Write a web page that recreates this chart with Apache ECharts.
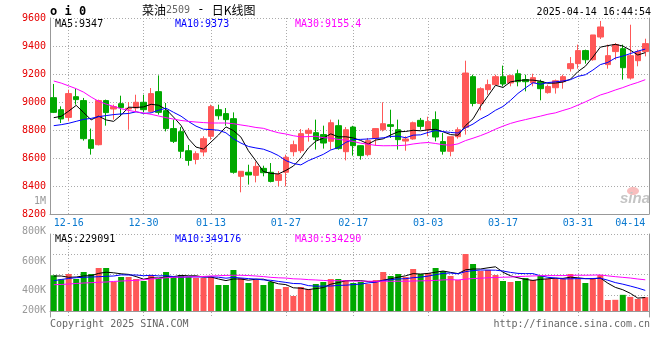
<!DOCTYPE html>
<html><head><meta charset="utf-8">
<script src="https://cdn.jsdelivr.net/npm/echarts@6/dist/echarts.min.js"></script>
<style>html,body{margin:0;padding:0;background:#fff}#c{width:660px;height:360px}</style>
</head><body><div id="c"></div>
<script>
const dates = ['12-12','12-13','12-16','12-17','12-18','12-19','12-20','12-23','12-24','12-25','12-26','12-27','12-30','12-31',
 '01-02','01-03','01-06','01-07','01-08','01-09','01-10','01-13','01-14','01-15','01-16','01-17','01-20','01-21','01-22','01-23','01-24','01-27',
 '02-05','02-06','02-07','02-10','02-11','02-12','02-13','02-14','02-17','02-18','02-19','02-20','02-21','02-24','02-25','02-26','02-27','02-28',
 '03-03','03-04','03-05','03-06','03-07','03-10','03-11','03-12','03-13','03-14','03-17','03-18','03-19','03-20','03-21','03-24','03-25','03-26','03-27','03-28','03-31',
 '04-01','04-02','04-03','04-07','04-08','04-09','04-10','04-11','04-14'];
const opens = [9031,8945,8890,9038,9010,8731,8695,9010,8950,8988, 8950,8957,8998,8933,9074,8938,8810,8788,8652,8590,
 8643,8755,8945,8917,8881,8469,8498,8476,8526,8498, 8440,8498,8645,8652,8776,8781,8767,8719,8831,8645,
 8821,8688,8624,8743,8802,8838,8802,8721,8736,8869, 8802,8874,8717,8648,8752,8819,9181,8990,9088,9124,
 9181,9136,9202,9160,9138,9145,9067,9102,9145,9238, 9274,9367,9302,9464,9267,9360,9381,9171,9295,9360];
const closes = [8926,8879,9060,9017,8738,8669,9010,8924,8967,8960, 8955,8998,8945,9060,8926,8810,8719,8648,8583,8631,
 8738,8967,8902,8874,8498,8505,8479,8540,8495,8433, 8483,8605,8695,8774,8798,8731,8707,8852,8667,8802,
 8688,8617,8724,8810,8845,8826,8731,8736,8852,8826, 8860,8750,8648,8752,8802,9207,8990,9095,9124,9181,
 9129,9188,9145,9145,9174,9095,9110,9152,9181,9274, 9367,9302,9479,9536,9331,9410,9245,9331,9360,9417];
const lows = [8921,8850,8862,8981,8724,8624,8690,8831,8874,8902, 8802,8933,8926,8926,8910,8790,8707,8598,8545,8555,
 8612,8731,8874,8831,8488,8355,8410,8426,8469,8426, 8398,8398,8612,8636,8717,8660,8667,8660,8660,8583,
 8617,8588,8612,8688,8790,8743,8660,8652,8731,8802, 8755,8719,8624,8612,8738,8767,8969,8940,9052,9124,
 9112,9112,9112,9076,9112,9012,9060,9060,9095,9217, 9238,9274,9295,9450,9238,9302,9160,9160,9255,9326];
const highs = [9129,8969,9088,9093,9029,8810,9017,9017,8981,9045, 9000,9052,9052,9100,9190,8993,8874,8821,8693,8648,
 8755,8981,8981,8957,8926,8505,8552,8574,8545,8564, 8507,8624,8724,8807,8814,8874,8831,8874,8874,8821,
 8830,8690,8743,8812,8998,8945,8874,8755,8860,8886, 8895,8933,8779,8752,8819,9295,9195,9105,9160,9195,
 9260,9195,9231,9195,9202,9160,9124,9160,9195,9321, 9410,9374,9479,9579,9410,9421,9410,9552,9374,9452];
const volumes = [607000,539000,629000,544000,663000,629000,731000,731000,493000,578000,
 578000,544000,510000,612000,561000,663000,578000,612000,578000,561000,
 561000,578000,442000,442000,697000,561000,476000,527000,442000,493000,
 374000,408000,255000,408000,374000,459000,493000,544000,544000,527000,
 476000,493000,459000,527000,663000,595000,629000,578000,714000,629000,
 646000,731000,680000,595000,527000,969000,799000,680000,697000,612000,
 510000,493000,510000,561000,527000,595000,544000,561000,544000,629000,
 544000,476000,544000,612000,187000,190000,275000,240000,205000,235000];
// moving-average values for the first days (history before the window)
const ma5Lead = [8888,8898,8935,8976];
const ma10Lead = [8831,8838,8848,8862,8876,8883,8895,8903,8910];
const ma30Lead = [9150,9135,9115,9095,9070,9035,9005,8985,8968,8952,8940,8930,8921,8912,8900,8888,8878,8868,8862,8857,8853,8850,8850,8850,8845,8836,8828,8818,8812];
const vma5Lead = [595000,595000,573000,578000];
const vma10Lead = [515000,536000,553000,566000,573000,578000,583000,590000,595000];
const vma30Lead = [447000,451000,459000,468000,476000,481000,488000,493000,502000,510000,515000,522000,532000,544000,553000,566000,573000,578000,578000,581000,587000,595000,600000,605000,607000,607000,603000,595000,585000];
const dateTicks = ['12-16','12-30','01-13','01-27','02-17','03-03','03-17','03-31','04-14'];
const priceMin = 8200, priceMax = 9600, priceStep = 200;
const volTickLabels = ['800K','600K','400K','200K'];
const maTexts = ['MA5:9347','MA10:9373','MA30:9155.4'];
const vmaTexts = ['MA5:229091','MA10:349176','MA30:534290'];

function movingAvg(src, n, lead){
  return src.map((v,i)=>{
    if(i < n-1) return lead[i];
    let s=0; for(let k=i-n+1;k<=i;k++) s+=src[k];
    return +(s/n).toFixed(1);
  });
}
const UP='#ff5858', DOWN='#00a800';
const MONO='"DejaVu Sans Mono", monospace';
const isTick = i => dateTicks.indexOf(dates[i]) >= 0;
const dotted = {color:'#aaa', type:[1,2], width:1};

const chart = echarts.init(document.getElementById('c'), null, {renderer:'canvas'});
const catAxis = (g, showLabel) => ({
  type:'category', gridIndex:g, data:dates, boundaryGap:true,
  axisLine:{show:true, lineStyle:{color:'#999'}}, axisTick:{show:false},
  axisLabel:{show:showLabel, interval:(i)=>isTick(i), color:'#0a79cf', fontFamily:MONO, fontSize:10, margin:4, alignMaxLabel:'right'},
  splitLine:{show:true, interval:(i)=>isTick(i) && i<dates.length-1, alignWithLabel:true, lineStyle:dotted}
});
const rightBorder = g => ({type:'value', gridIndex:g, position:'right', min:0, max:1,
  axisLine:{show:true, lineStyle:{color:'#999'}}, axisLabel:{show:false}, axisTick:{show:false}, splitLine:{show:false}});

const gtext = (x,y,text,fill,font,align) => ({type:'text', x, y, silent:true,
  style:{text, fill, font, align:align||'left', verticalAlign:'middle'}});

chart.setOption({
  animation:false,
  backgroundColor:'#fff',
  grid:[
    {left:50, top:18, width:599, height:196},
    {left:50, top:234, width:599, height:83},
    {left:50, top:234, width:599, height:61}
  ],
  xAxis:[catAxis(0,true), catAxis(1,false), {type:'value', gridIndex:2, show:false, min:0, max:1}],
  yAxis:[
    {type:'value', gridIndex:0, min:priceMin, max:priceMax, interval:priceStep,
     axisLine:{show:true, lineStyle:{color:'#999'}}, axisTick:{show:false},
     axisLabel:{color:'#e60000', fontFamily:MONO, fontSize:10, margin:4, formatter:(v)=>String(v)},
     splitLine:{show:true, lineStyle:dotted}},
    rightBorder(0),
    {type:'value', gridIndex:1, min:-102000, max:1309000,
     axisLine:{show:true, lineStyle:{color:'#999'}}, axisTick:{show:false}, axisLabel:{show:false}, splitLine:{show:false}},
    rightBorder(1),
    {type:'value', gridIndex:2, min:0, max:3, interval:1, axisLine:{show:false}, axisTick:{show:false},
     axisLabel:{show:false}, splitLine:{show:true, lineStyle:dotted}}
  ],
  series:[
    {type:'candlestick', xAxisIndex:0, yAxisIndex:0, barWidth:6,
     data:dates.map((d,i)=>[opens[i], closes[i], lows[i], highs[i]]),
     itemStyle:{color:UP, color0:DOWN, borderColor:UP, borderColor0:DOWN, borderWidth:1}},
    {type:'line', xAxisIndex:0, yAxisIndex:0, data:movingAvg(closes,5,ma5Lead), symbol:'none', lineStyle:{color:'#000', width:1}, z:5},
    {type:'line', xAxisIndex:0, yAxisIndex:0, data:movingAvg(closes,10,ma10Lead), symbol:'none', lineStyle:{color:'#0000ff', width:1}, z:5},
    {type:'line', xAxisIndex:0, yAxisIndex:0, data:movingAvg(closes,30,ma30Lead), symbol:'none', lineStyle:{color:'#ff00ff', width:1}, z:5},
    {type:'bar', xAxisIndex:1, yAxisIndex:2, barWidth:6, data:volumes,
     itemStyle:{color:(p)=> closes[p.dataIndex] >= opens[p.dataIndex] ? UP : DOWN}},
    {type:'line', xAxisIndex:1, yAxisIndex:2, data:movingAvg(volumes,5,vma5Lead), symbol:'none', lineStyle:{color:'#000', width:1}, z:5},
    {type:'line', xAxisIndex:1, yAxisIndex:2, data:movingAvg(volumes,10,vma10Lead), symbol:'none', lineStyle:{color:'#0000ff', width:1}, z:5},
    {type:'line', xAxisIndex:1, yAxisIndex:2, data:movingAvg(volumes,30,vma30Lead), symbol:'none', lineStyle:{color:'#ff00ff', width:1}, z:5}
  ],
  graphic:[
    gtext(50,12,'o i 0','#000','bold 12px '+MONO),
    {type:'text', x:142, y:10, silent:true, style:{
      text:'{a|菜油}{b|2509}{c| - }{a|日K线图}', verticalAlign:'middle',
      rich:{a:{fontSize:12, fontFamily:'"Noto Sans CJK SC"', fill:'#000'},
            b:{fontSize:10, fontFamily:MONO, fill:'#666'},
            c:{fontSize:12, fontFamily:MONO, fill:'#000'}}}},
    gtext(651,12,'2025-04-14 16:44:54','#000','10px '+MONO,'right'),
    gtext(55,24,maTexts[0],'#000','10px '+MONO),
    gtext(175,24,maTexts[1],'#0000ff','10px '+MONO),
    gtext(295,24,maTexts[2],'#ff00ff','10px '+MONO),
    gtext(55,239,vmaTexts[0],'#000','10px '+MONO),
    gtext(175,239,vmaTexts[1],'#0000ff','10px '+MONO),
    gtext(295,239,vmaTexts[2],'#ff00ff','10px '+MONO),
    gtext(46,201,'1M','#999','10px '+MONO,'right'),
    gtext(46,231,volTickLabels[0],'#999','10px '+MONO,'right'),
    gtext(46,261,volTickLabels[1],'#999','10px '+MONO,'right'),
    gtext(46,290,volTickLabels[2],'#999','10px '+MONO,'right'),
    gtext(46,310,volTickLabels[3],'#999','10px '+MONO,'right'),
    gtext(50,324,'Copyright 2025 SINA.COM','#666','10px '+MONO),
    gtext(650,324,'http://finance.sina.com.cn','#666','10px '+MONO,'right'),
    {type:'ellipse', silent:true, shape:{cx:633, cy:191, rx:6, ry:4}, style:{fill:'rgba(240,110,110,0.45)'}},
    gtext(620,199,'sina','#c4c4c4','italic bold 15px "Liberation Sans"')
  ]
});
</script></body></html>
